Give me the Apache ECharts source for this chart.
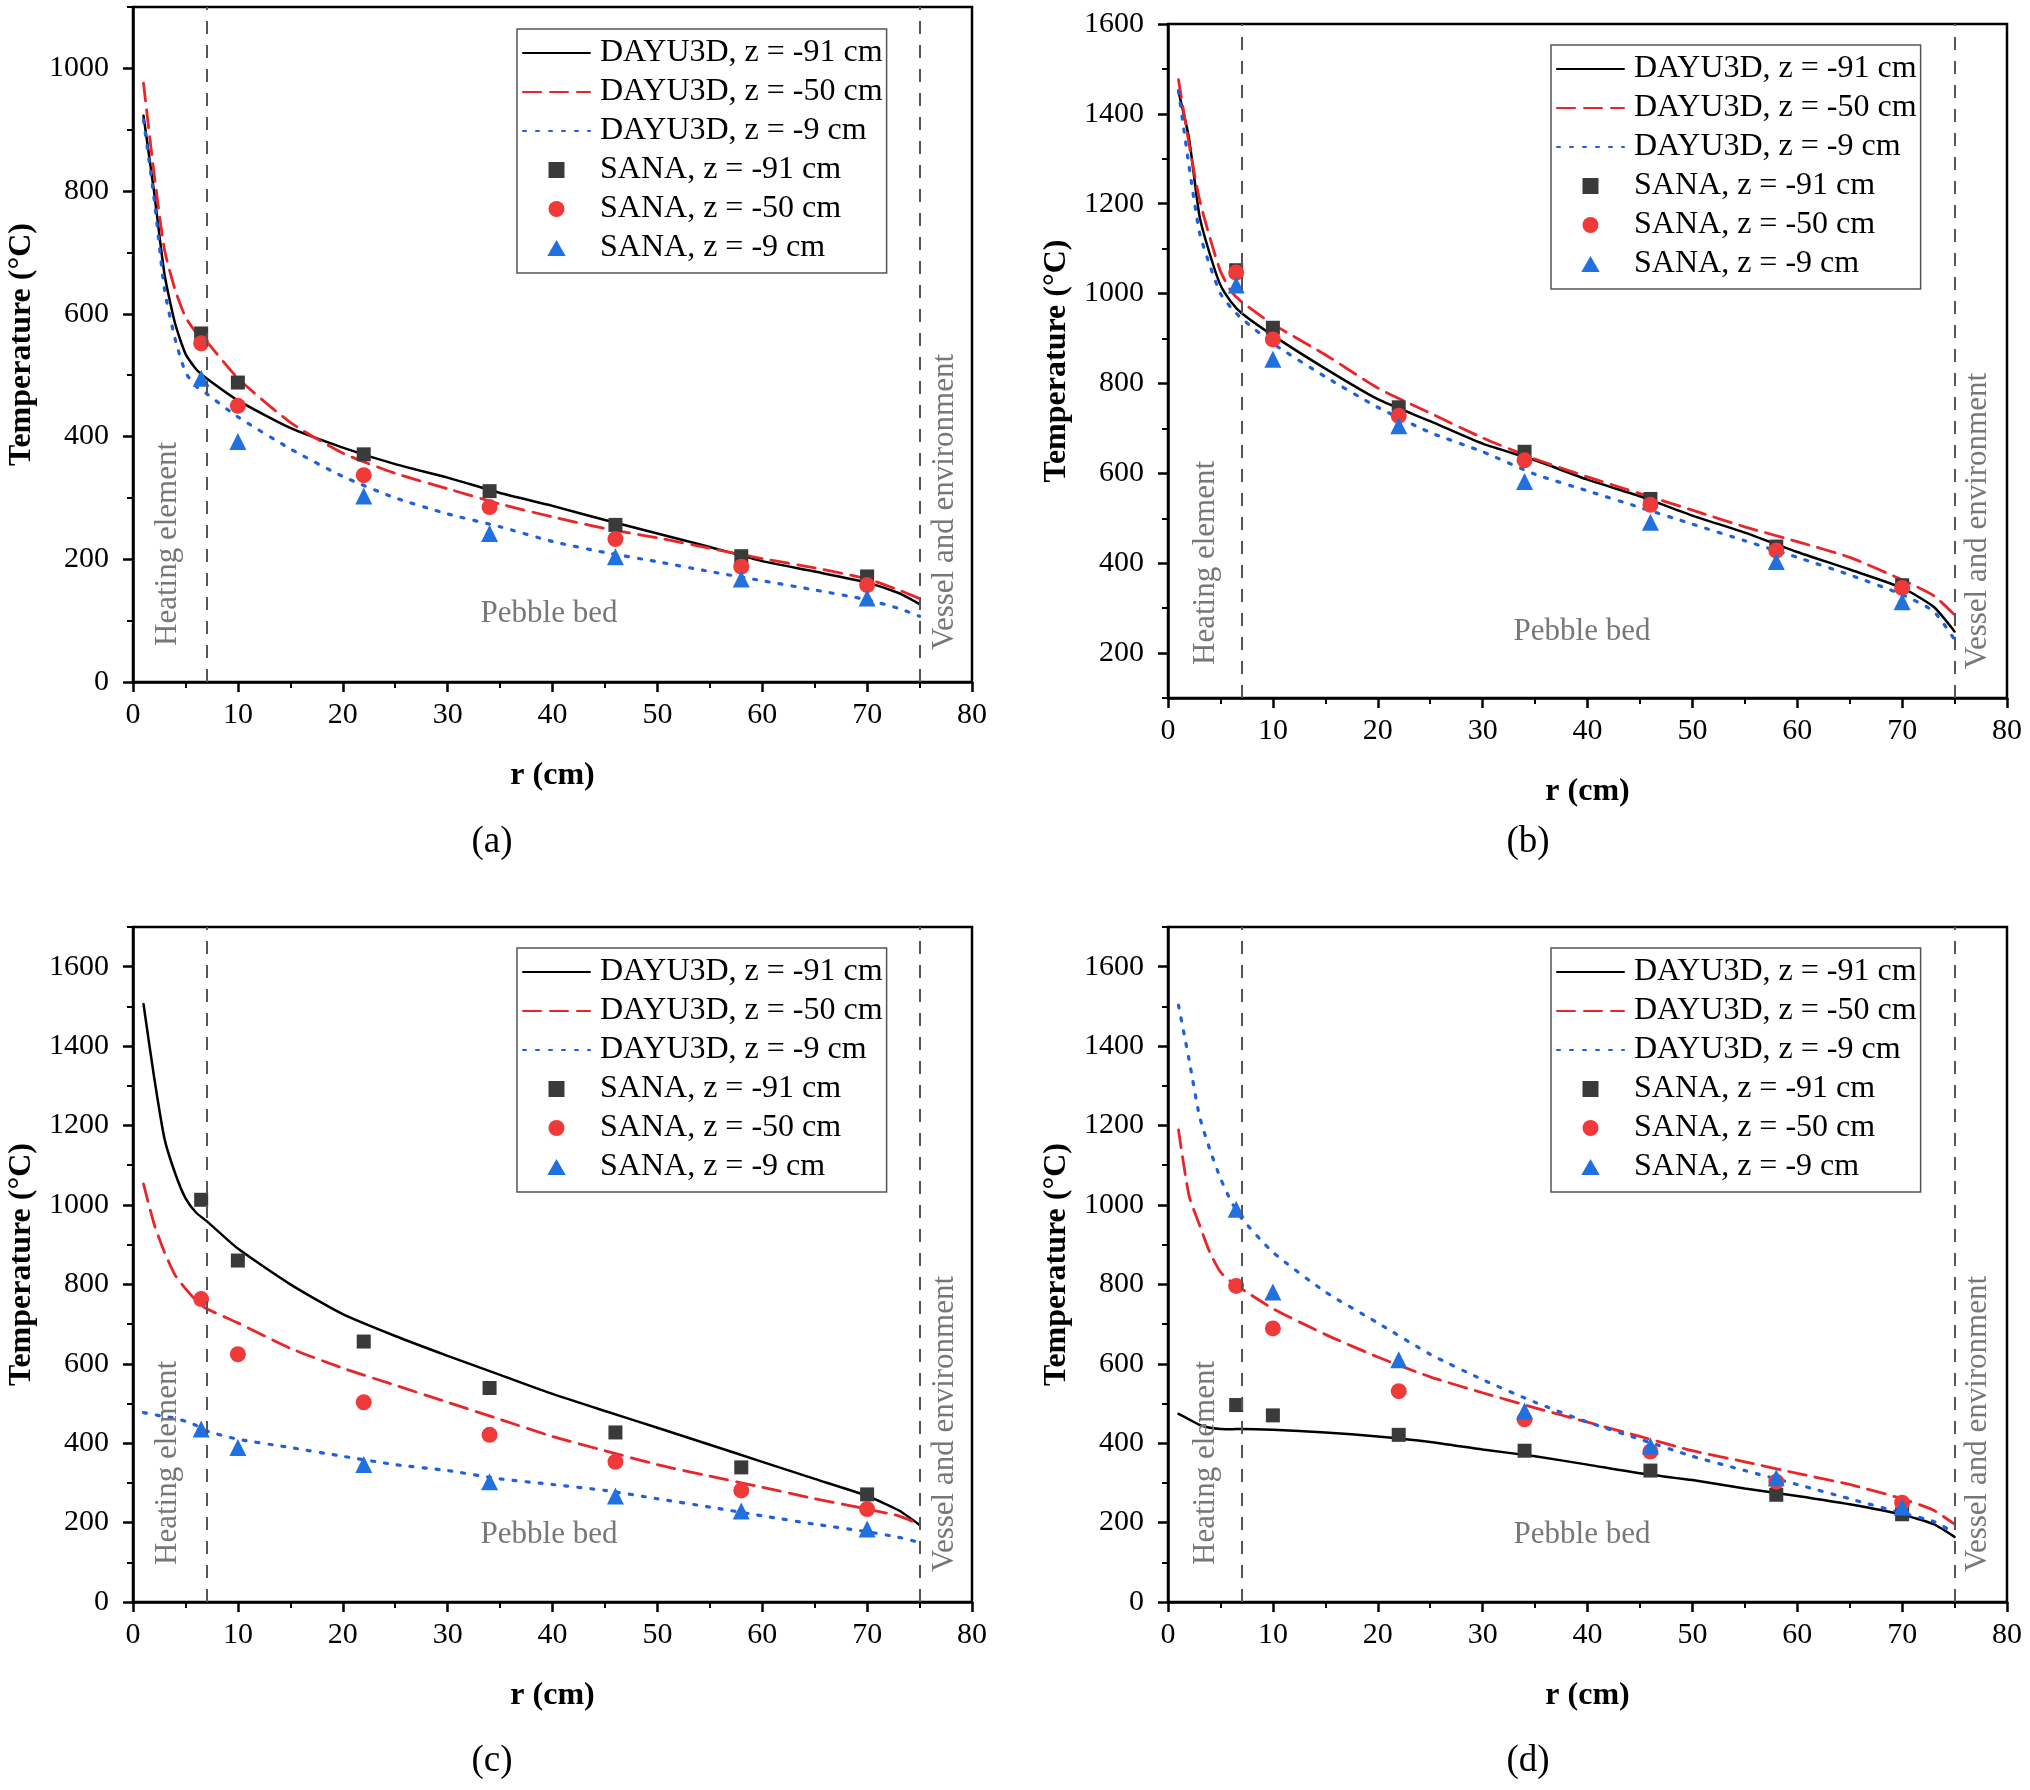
<!DOCTYPE html>
<html><head><meta charset="utf-8">
<script src="https://cdn.jsdelivr.net/npm/echarts@6/dist/echarts.min.js"></script>
<style>html,body{margin:0;padding:0;background:#fff}#c{width:2030px;height:1790px}</style>
</head><body><div id="c"></div>
<script>
// ---------- data ----------
const sanaR = [6.5, 10, 22, 34, 46, 58, 70];
const lineR = [1, 2, 3, 4, 5, 6, 7, 10, 15, 20, 25, 30, 35, 40, 45, 50, 55, 60, 65, 70, 73, 75];

const seriesNames = ['DAYU3D, z = -91 cm', 'DAYU3D, z = -50 cm', 'DAYU3D, z = -9 cm',
                     'SANA, z = -91 cm', 'SANA, z = -50 cm', 'SANA, z = -9 cm'];
const panelLetters = ['(a)', '(b)', '(c)', '(d)'];
const regionNames = ['Heating element', 'Pebble bed', 'Vessel and environment'];
const boundaryR = [7, 75];

// panel (a)
const aDayu91 = [923, 800, 665, 585, 535, 510, 495, 459, 414, 382, 355, 333, 308, 287, 264, 242, 220, 197, 180, 162, 145, 127];
const aDayu50 = [976, 830, 705, 640, 595, 570, 555, 495, 423, 373, 340, 315, 290, 269, 250, 235, 218, 201, 186, 168, 150, 136];
const aDayu9  = [916, 790, 640, 560, 505, 482, 470, 432, 380, 335, 300, 274, 253, 229, 211, 196, 180, 165, 150, 134, 120, 107];
const aSana91 = [568, 488, 371, 311, 256, 205, 172];
const aSana50 = [552, 450, 337, 285, 233, 188, 158];
const aSana9  = [495, 392, 303, 242, 204, 168, 137];
const aYTicks = [0, 200, 400, 600, 800, 1000];
const aYMinor = [100, 300, 500, 700, 900, 1100];

// panel (b)
const bDayu91 = [1450, 1346, 1173, 1087, 1019, 982, 957, 907, 833, 765, 716, 666, 629, 586, 549, 506, 468, 425, 386, 345, 303, 248];
const bDayu50 = [1476, 1334, 1210, 1124, 1050, 1006, 982, 932, 864, 790, 734, 679, 632, 592, 555, 518, 481, 448, 413, 363, 328, 285];
const bDayu9  = [1452, 1285, 1136, 1062, 1000, 969, 945, 889, 815, 747, 691, 648, 598, 561, 524, 487, 450, 413, 374, 330, 293, 230];
const bSana91 = [1052, 924, 747, 648, 543, 437, 351];
const bSana50 = [1047, 898, 728, 629, 530, 428, 345];
const bSana9  = [1019, 854, 706, 582, 491, 404, 314];
const bYTicks = [200, 400, 600, 800, 1000, 1200, 1400, 1600];
const bYMinor = [100, 300, 500, 700, 900, 1100, 1300, 1500];

// panel (c)
const cDayu91 = [1506, 1324, 1167, 1081, 1017, 981, 960, 890, 800, 725, 670, 620, 572, 524, 481, 439, 396, 353, 310, 267, 231, 194];
const cDayu50 = [1053, 953, 881, 824, 789, 760, 739, 703, 639, 589, 546, 503, 460, 417, 381, 346, 317, 289, 260, 234, 217, 196];
const cDayu9  = [477, 472, 467, 463, 455, 445, 431, 410, 389, 367, 346, 331, 310, 296, 281, 260, 239, 217, 196, 177, 163, 150];
const cSana91 = [1013, 860, 656, 539, 427, 339, 271];
const cSana50 = [763, 624, 503, 421, 353, 281, 234];
const cSana9  = [436, 389, 346, 303, 267, 229, 184];
const cYTicks = [0, 200, 400, 600, 800, 1000, 1200, 1400, 1600];
const cYMinor = [100, 300, 500, 700, 900, 1100, 1300, 1500, 1700];

// panel (d)
const dDayu91 = [474, 460, 446, 439, 436, 435, 436, 434, 427, 417, 403, 384, 367, 346, 324, 307, 286, 267, 246, 220, 196, 164];
const dDayu50 = [1189, 1024, 950, 880, 831, 807, 789, 739, 674, 617, 567, 527, 489, 453, 417, 381, 353, 324, 296, 260, 231, 196];
const dDayu9  = [1503, 1367, 1224, 1139, 1067, 1010, 967, 881, 781, 703, 624, 560, 503, 453, 410, 367, 331, 296, 260, 224, 203, 174];
const dSana91 = [496, 470, 421, 381, 331, 270, 221];
const dSana50 = [796, 689, 531, 460, 379, 303, 250];
const dSana9  = [989, 781, 610, 481, 393, 313, 239];
const dYTicks = cYTicks;
const dYMinor = cYMinor;

// ---------- layout / styles ----------
const FONT = '"Liberation Serif", "Times New Roman", serif';
const panels = [
  {grid: {left: 133, top: 7, width: 839, height: 675}, yMin: 0, yMax: 1100, ticks: aYTicks, minor: aYMinor,
   lines: [aDayu91, aDayu50, aDayu9], pts: [aSana91, aSana50, aSana9],
   legend: {left: 517, top: 29}, letter: [492, 842],
   heat: [168, 544], pebble: [549, 614], vessel: [945, 502]},
  {grid: {left: 1168, top: 24, width: 839, height: 674}, yMin: 100, yMax: 1600, ticks: bYTicks, minor: bYMinor,
   lines: [bDayu91, bDayu50, bDayu9], pts: [bSana91, bSana50, bSana9],
   legend: {left: 1551, top: 45}, letter: [1528, 842],
   heat: [1206, 563], pebble: [1582, 632], vessel: [1978, 521]},
  {grid: {left: 133, top: 927, width: 839, height: 675}, yMin: 0, yMax: 1700, ticks: cYTicks, minor: cYMinor,
   lines: [cDayu91, cDayu50, cDayu9], pts: [cSana91, cSana50, cSana9],
   legend: {left: 517, top: 948}, letter: [492, 1761],
   heat: [168, 1463], pebble: [549, 1535], vessel: [945, 1424]},
  {grid: {left: 1168, top: 927, width: 839, height: 675}, yMin: 0, yMax: 1700, ticks: dYTicks, minor: dYMinor,
   lines: [dDayu91, dDayu50, dDayu9], pts: [dSana91, dSana50, dSana9],
   legend: {left: 1551, top: 948}, letter: [1528, 1761],
   heat: [1206, 1463], pebble: [1582, 1535], vessel: [1978, 1424]}
];

const lineColors = ['#000000', '#e8262a', '#1f5fe0'];
const lineTypes = ['solid', [18, 9], [3, 10]];
const lineWidths = [2.5, 2.8, 3.2];
const ptColors = ['#3a3a3a', '#f03a3a', '#2070e0'];
const ptSymbols = ['rect', 'circle', 'triangle'];
const ptSizes = [14, 16, 17];
const ptLegendIcons = [
  'path://M0,0L10,0L10,10L0,10Z',
  'path://M0,5A5,5,0,1,1,10,5A5,5,0,1,1,0,5Z',
  'path://M5,0L10,8.7L0,8.7Z'
];

const option = {
  backgroundColor: '#fff',
  animation: false,
  grid: [], xAxis: [], yAxis: [], series: [], legend: [], graphic: []
};

const zip = (xs, ys) => xs.map((x, i) => [x, ys[i]]);
const plain = v => String(v);

panels.forEach((p, k) => {
  option.grid.push(Object.assign({show: true, borderColor: '#000', borderWidth: 2.5, backgroundColor: 'transparent'}, p.grid));
  option.xAxis.push({
    type: 'value', gridIndex: k, min: 0, max: 80, interval: 10,
    name: 'r (cm)', nameLocation: 'middle', nameGap: 78,
    nameTextStyle: {fontFamily: FONT, fontSize: 32, color: '#000', fontWeight: 'bold'},
    axisLine: {show: true, lineStyle: {color: '#000', width: 2.5}},
    axisTick: {show: true, length: 10, lineStyle: {color: '#000', width: 2.5}},
    minorTick: {show: true, splitNumber: 2, length: 6, lineStyle: {color: '#000', width: 2}},
    axisLabel: {fontFamily: FONT, fontSize: 30, color: '#000', margin: 18, formatter: plain},
    splitLine: {show: false}
  });
  option.yAxis.push({
    type: 'value', gridIndex: k, min: p.yMin, max: p.yMax,
    name: 'Temperature (°C)', nameLocation: 'middle', nameGap: 95,
    nameTextStyle: {fontFamily: FONT, fontSize: 32, color: '#000', fontWeight: 'bold'},
    axisLine: {show: true, lineStyle: {color: '#000', width: 2.5}},
    axisTick: {show: true, length: 10, customValues: p.ticks, lineStyle: {color: '#000', width: 2.5}},
    axisLabel: {fontFamily: FONT, fontSize: 30, color: '#000', margin: 24, customValues: p.ticks, formatter: plain},
    splitLine: {show: false}
  });
  option.yAxis.push({
    type: 'value', gridIndex: k, min: p.yMin, max: p.yMax, position: 'left',
    axisLine: {show: false},
    axisTick: {show: true, length: 6, customValues: p.minor, lineStyle: {color: '#000', width: 2}},
    axisLabel: {show: false},
    splitLine: {show: false}
  });
  const yIdx = k * 2;
  p.lines.forEach((vals, j) => {
    const s = {
      name: seriesNames[j], type: 'line', xAxisIndex: k, yAxisIndex: yIdx,
      data: zip(lineR, vals), showSymbol: false, symbol: 'none', smooth: 0.2,
      lineStyle: {color: lineColors[j], width: lineWidths[j], type: lineTypes[j], cap: 'round'},
      itemStyle: {color: lineColors[j]}, z: 3
    };
    if (j === 0) {
      s.markLine = {
        silent: true, symbol: 'none', label: {show: false},
        lineStyle: {color: '#555', type: [13, 11], width: 2},
        data: boundaryR.map(r => ({xAxis: r}))
      };
    }
    option.series.push(s);
  });
  p.pts.forEach((vals, j) => {
    option.series.push({
      name: seriesNames[3 + j], type: 'scatter', xAxisIndex: k, yAxisIndex: yIdx,
      data: zip(sanaR, vals), symbol: ptSymbols[j], symbolSize: ptSizes[j],
      itemStyle: {color: ptColors[j], opacity: 1}, z: 4
    });
  });
  option.legend.push({
    orient: 'vertical', left: p.legend.left, top: p.legend.top,
    data: seriesNames.map((n, j) => j < 3
      ? {name: n, itemStyle: {opacity: 0}}
      : {name: n, icon: ptLegendIcons[j - 3]}),
    itemWidth: 67, itemHeight: 16, itemGap: 7, selectedMode: false, symbolKeepAspect: true,
    textStyle: {fontFamily: FONT, fontSize: 32, color: '#000', lineHeight: 31, padding: [0, 0, 0, 5]},
    backgroundColor: '#fff', borderColor: '#555', borderWidth: 1.5,
    padding: [8, 4, 9, 5], z: 10
  });
  const annoStyle = {fontFamily: FONT, fontSize: 31, fill: '#777', textAlign: 'center', textVerticalAlign: 'middle'};
  option.graphic.push(
    {type: 'text', x: p.heat[0], y: p.heat[1], rotation: Math.PI / 2, style: Object.assign({text: regionNames[0]}, annoStyle), z: 5},
    {type: 'text', x: p.pebble[0], y: p.pebble[1], style: Object.assign({text: regionNames[1]}, annoStyle), z: 5},
    {type: 'text', x: p.vessel[0], y: p.vessel[1], rotation: Math.PI / 2, style: Object.assign({text: regionNames[2]}, annoStyle), z: 5},
    {type: 'text', x: p.letter[0], y: p.letter[1], style: {text: panelLetters[k], fontFamily: FONT, fontSize: 37, fill: '#000', textAlign: 'center', textVerticalAlign: 'middle'}, z: 5}
  );
});

const chart = echarts.init(document.getElementById('c'), null, {renderer: 'canvas'});
chart.setOption(option);
</script>
</body></html>
